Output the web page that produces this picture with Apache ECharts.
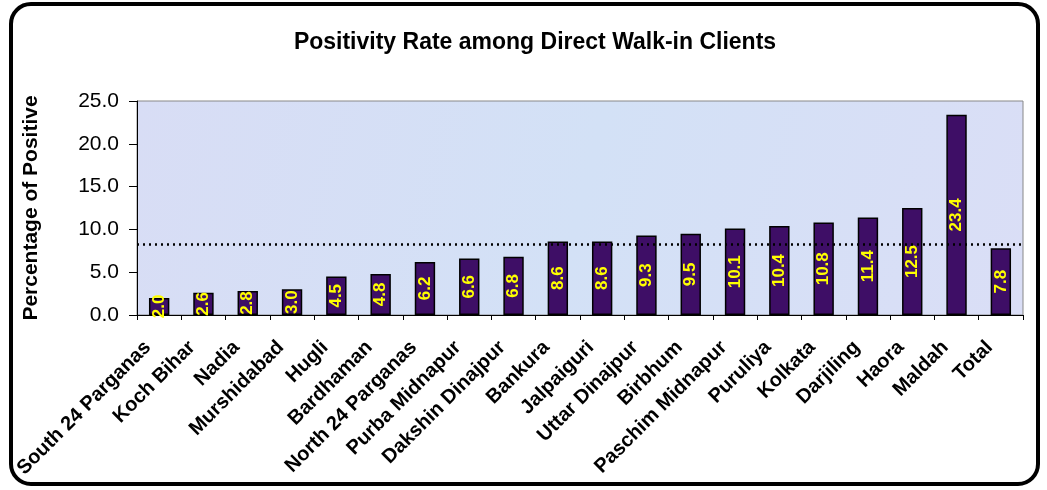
<html>
<head>
    <meta charset="UTF-8">
    <title>Positivity Rate</title>
    <script src="https://cdn.jsdelivr.net/npm/echarts@6/dist/echarts.min.js"></script>
    <style>
        body { margin: 0; background: #fff; }
    </style>
</head>

<body>
    <div id="container" style="width: 1047px;height:490px;"></div>
</body>

<script>
    // districts, left to right
    var districts = ['South 24 Parganas', 'Koch Bihar', 'Nadia', 'Murshidabad', 'Hugli', 'Bardhaman',
        'North 24 Parganas', 'Purba Midnapur', 'Dakshin Dinajpur', 'Bankura', 'Jalpaiguri', 'Uttar Dinajpur',
        'Birbhum', 'Paschim Midnapur', 'Puruliya', 'Kolkata', 'Darjiling', 'Haora', 'Maldah', 'Total'];
    var rates = [2.0, 2.6, 2.8, 3.0, 4.5, 4.8, 6.2, 6.6, 6.8, 8.6, 8.6, 9.3, 9.5, 10.1, 10.4, 10.8, 11.4, 12.5, 23.4, 7.8];
    var refLevel = 8.3;   // dotted reference line
    var yTicks = [0, 5, 10, 15, 20, 25];

    var mycharts = echarts.init(document.getElementById('container'));

    var option = {
        backgroundColor: '#ffffff',
        animation: false,
        title: {
            text: 'Positivity Rate among Direct Walk-in Clients',
            left: 530,
            textAlign: 'center',
            top: 26,
            textStyle: { fontFamily: 'Liberation Sans', fontSize: 23, fontWeight: 'bold', color: '#000' }
        },
        graphic: [{
            type: 'rect',
            shape: { x: 11, y: 4, width: 1027, height: 480, r: 20 },
            style: { fill: 'none', stroke: '#000', lineWidth: 4 },
            z: 100
        }],
        grid: {
            left: 137, right: 24, top: 101, bottom: 175,
            show: true,
            backgroundColor: {
                type: 'linear', x: 0, y: 0, x2: 1, y2: 1,
                colorStops: [
                    { offset: 0, color: '#d8ddf5' },
                    { offset: 0.5, color: '#d3e1f6' },
                    { offset: 1, color: '#dadef6' }
                ]
            },
            borderColor: '#888',
            borderWidth: 1
        },
        xAxis: {
            type: 'category',
            data: districts,
            axisLine: { lineStyle: { color: '#000', width: 1 } },
            axisTick: { show: true, length: 5, lineStyle: { color: '#000' } },
            axisLabel: {
                rotate: 45,
                interval: 0,
                margin: 18,
                padding: [0, 16, 0, 0],
                fontFamily: 'Liberation Sans',
                fontSize: 20,
                fontWeight: 'bold',
                color: '#000'
            }
        },
        yAxis: {
            type: 'value',
            min: yTicks[0],
            max: yTicks[yTicks.length - 1],
            interval: 5,
            name: 'Percentage of Positive',
            nameLocation: 'middle',
            nameGap: 95,
            nameTextStyle: { fontFamily: 'Liberation Sans', fontSize: 21, fontWeight: 'bold', color: '#000' },
            axisLine: { show: true, lineStyle: { color: '#000' } },
            axisTick: { show: true, length: 8, lineStyle: { color: '#000' } },
            splitLine: { show: false },
            axisLabel: {
                margin: 18,
                fontFamily: 'Liberation Sans',
                fontSize: 21,
                color: '#000',
                formatter: function (v) { return v.toFixed(1); }
            }
        },
        series: [{
            type: 'bar',
            data: rates,
            barWidth: '46%',
            itemStyle: { color: '#3e0e66', borderColor: '#000', borderWidth: 1.5 },
            label: {
                show: true,
                position: 'inside',
                rotate: 90,
                fontFamily: 'Liberation Sans',
                fontSize: 17,
                fontWeight: 'bold',
                color: '#ffff00',
                formatter: function (p) { return p.value.toFixed(1); }
            },
            markLine: {
                silent: true,
                symbol: 'none',
                label: { show: false },
                lineStyle: { color: '#000', type: [2, 4], width: 2.5 },
                data: [{ yAxis: refLevel }]
            }
        }]
    };
    mycharts.setOption(option);
</script>
</html>
